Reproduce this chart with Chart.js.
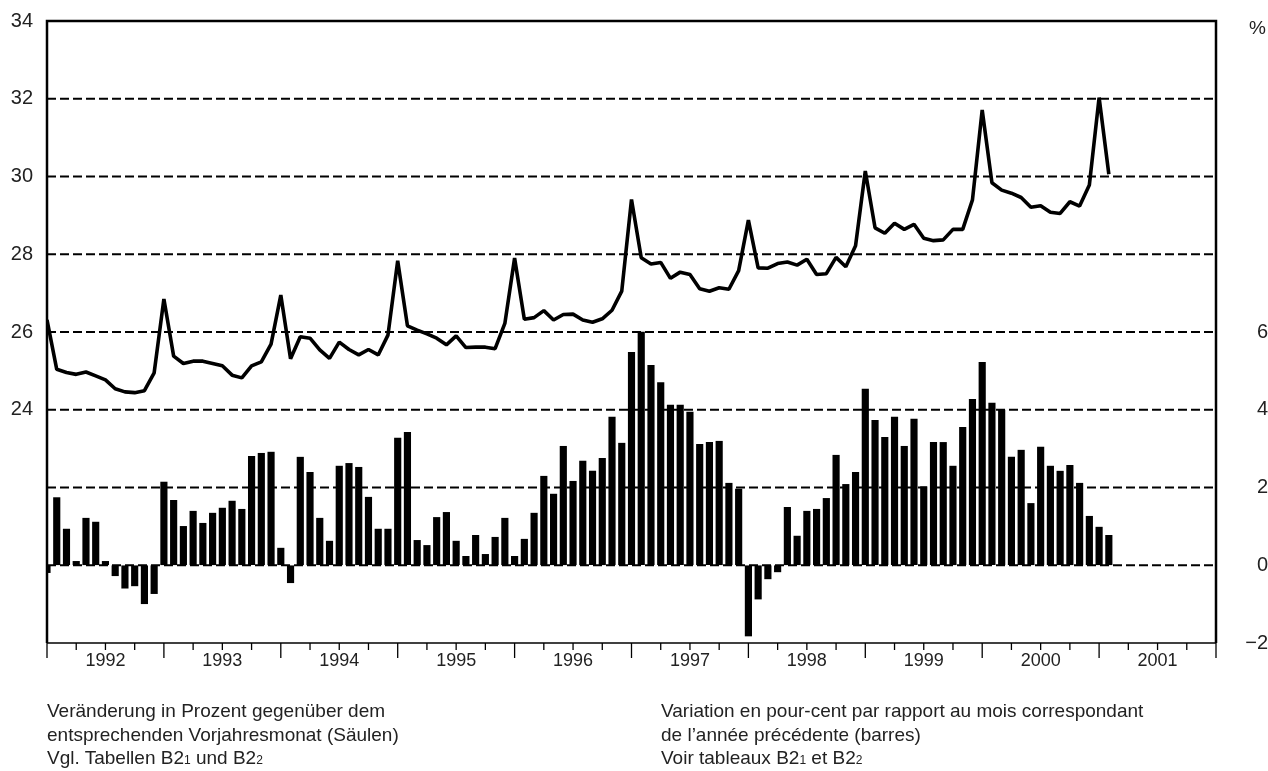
<!DOCTYPE html>
<html>
<head>
<meta charset="utf-8">
<script src="https://cdn.jsdelivr.net/npm/chart.js@4.4.0/dist/chart.umd.min.js"></script>
<style>
  body { margin: 0; background: #fff; }
  #wrap { position: relative; width: 1268px; height: 771px; font-family: "Liberation Sans", Arial, sans-serif; color: #222; }
  #chart { position: absolute; left: 0; top: 0; }
  .note { position: absolute; font-size: 19px; line-height: 23.5px; white-space: nowrap; }
  .note small { font-size: 12px; }
</style>
</head>
<body>
<div id="wrap">
  <canvas id="chart" width="1268" height="771"></canvas>
  <div class="note" style="left:1249px; top:16px;">%</div>
  <div class="note" style="left:47px; top:699px;">Veränderung in Prozent gegenüber dem<br>entsprechenden Vorjahresmonat (Säulen)<br>Vgl. Tabellen B2<small>1</small> und B2<small>2</small></div>
  <div class="note" style="left:661px; top:699px;">Variation en pour-cent par rapport au mois correspondant<br>de l’année précédente (barres)<br>Voir tableaux B2<small>1</small> et B2<small>2</small></div>
</div>
<script>
// x axis: one year label per year, monthly points start at the left edge (Dec 1991)
const years = ["1992", "1993", "1994", "1995", "1996", "1997", "1998", "1999", "2000", "2001"];

// level in % (left scale, line)
const lineValues = [
  26.31, 25.04, 24.96, 24.91, 24.97, 24.87, 24.77, 24.54, 24.46, 24.44, 24.49, 24.95,
  26.85, 25.38, 25.19, 25.25, 25.25, 25.19, 25.13, 24.89, 24.82, 25.13, 25.23, 25.69,
  26.95, 25.31, 25.88, 25.84, 25.54, 25.32, 25.74, 25.55, 25.41, 25.55, 25.41, 25.92,
  27.83, 26.16, 26.05, 25.95, 25.84, 25.67, 25.90, 25.60, 25.61, 25.61, 25.57, 26.22,
  27.90, 26.33, 26.37, 26.55, 26.31, 26.45, 26.46, 26.31, 26.25, 26.34, 26.56, 27.05,
  29.41, 27.91, 27.75, 27.79, 27.38, 27.54, 27.48, 27.11, 27.05, 27.14, 27.10, 27.58,
  28.88, 27.65, 27.64, 27.76, 27.80, 27.72, 27.87, 27.48, 27.50, 27.92, 27.68, 28.22,
  30.14, 28.68, 28.54, 28.80, 28.64, 28.77, 28.41, 28.35, 28.37, 28.64, 28.64, 29.40,
  31.71, 29.84, 29.65, 29.57, 29.46, 29.21, 29.25, 29.08, 29.05, 29.35, 29.24, 29.78,
  32.03, 30.06
];

// change vs. same month of previous year in % (right scale, bars)
const barValues = [
  -0.19, 1.74, 0.93, 0.10, 1.21, 1.11, 0.10, -0.27, -0.59, -0.53, -0.99, -0.73,
  2.14, 1.67, 1.00, 1.39, 1.08, 1.34, 1.47, 1.65, 1.44, 2.80, 2.88, 2.91,
  0.44, -0.45, 2.78, 2.39, 1.21, 0.62, 2.55, 2.62, 2.52, 1.75, 0.93, 0.93,
  3.27, 3.42, 0.64, 0.51, 1.23, 1.36, 0.62, 0.23, 0.77, 0.28, 0.72, 1.21,
  0.23, 0.67, 1.34, 2.29, 1.83, 3.06, 2.16, 2.68, 2.42, 2.75, 3.81, 3.14,
  5.48, 6.00, 5.14, 4.70, 4.12, 4.12, 3.94, 3.11, 3.16, 3.19, 2.11, 1.96,
  -1.82, -0.87, -0.35, -0.17, 1.49, 0.75, 1.39, 1.44, 1.72, 2.83, 2.08, 2.39,
  4.53, 3.73, 3.29, 3.81, 3.06, 3.76, 2.02, 3.16, 3.16, 2.55, 3.55, 4.27,
  5.22, 4.17, 3.99, 2.78, 2.96, 1.59, 3.04, 2.55, 2.42, 2.57, 2.11, 1.26,
  0.98, 0.77
];

const leftTicks = [24, 26, 28, 30, 32, 34];
const rightTicks = [-2, 0, 2, 4, 6];
const dashedLevels = [20, 22, 24, 26, 28, 30, 32];

const months = years.length * 12;
const linePoints = lineValues.map((v, i) => ({ x: i, y: v }));
const barPoints = barValues.map((v, i) => ({ x: i, y: v }));

Chart.defaults.font.family = '"Liberation Sans", Arial, sans-serif';
Chart.defaults.color = "#222";

// invisible tick marks are used only to push the y labels away from the frame
const hiddenTicks = (len) => ({
  display: true,
  drawOnChartArea: false,
  drawTicks: true,
  tickLength: len,
  color: "rgba(0,0,0,0)",
  tickColor: "rgba(0,0,0,0)",
});

const framePlugin = {
  id: "frame",
  beforeDatasetsDraw(chart) {
    const { ctx, chartArea: a, scales } = chart;
    ctx.save();
    ctx.strokeStyle = "#000";
    ctx.lineWidth = 2;
    ctx.setLineDash([9, 4]);
    dashedLevels.forEach((v) => {
      const py = scales.y.getPixelForValue(v);
      ctx.beginPath();
      ctx.moveTo(a.left, py);
      ctx.lineTo(a.right, py);
      ctx.stroke();
    });
    ctx.restore();
  },
  afterDatasetsDraw(chart) {
    const { ctx, chartArea: a, scales } = chart;
    ctx.save();
    ctx.strokeStyle = "#000";
    // top, left and right border
    ctx.lineWidth = 2.5;
    ctx.beginPath();
    ctx.moveTo(a.left, a.bottom);
    ctx.lineTo(a.left, a.top);
    ctx.lineTo(a.right, a.top);
    ctx.lineTo(a.right, a.bottom);
    ctx.stroke();
    // bottom axis line
    ctx.lineWidth = 1.3;
    ctx.beginPath();
    ctx.moveTo(a.left, a.bottom);
    ctx.lineTo(a.right, a.bottom);
    ctx.stroke();
    // year and quarter ticks
    for (let m = 0; m <= months; m += 3) {
      const px = scales.x.getPixelForValue(m);
      const len = m % 12 === 0 ? 15 : 7;
      ctx.beginPath();
      ctx.moveTo(px, a.bottom);
      ctx.lineTo(px, a.bottom + len);
      ctx.stroke();
    }
    ctx.restore();
  },
};

new Chart(document.getElementById("chart"), {
  data: {
    datasets: [
      {
        type: "line",
        data: linePoints,
        yAxisID: "y",
        borderColor: "#000",
        borderWidth: 3.6,
        borderJoinStyle: "bevel",
        pointRadius: 0,
        tension: 0,
        order: 1,
      },
      {
        type: "bar",
        data: barPoints,
        yAxisID: "y1",
        backgroundColor: "#000",
        borderWidth: 0,
        barThickness: 6.5,
        order: 2,
      },
    ],
  },
  options: {
    responsive: false,
    animation: false,
    devicePixelRatio: 1,
    layout: { padding: { top: 21, left: 0, right: 0, bottom: 88 } },
    plugins: { legend: { display: false }, tooltip: { enabled: false } },
    scales: {
      x: {
        type: "linear",
        min: 0,
        max: months,
        offset: false,
        grid: { display: false, drawTicks: false, offset: false },
        border: { display: false },
        ticks: {
          stepSize: 6,
          autoSkip: false,
          maxRotation: 0,
          padding: 7,
          font: { size: 18 },
          callback: (v) => (v % 12 === 6 ? years[(v - 6) / 12] : ""),
        },
        afterFit: (s) => { s.height = 40; },
      },
      y: {
        position: "left",
        min: 18,
        max: 34,
        grid: hiddenTicks(14),
        border: { display: false },
        ticks: {
          stepSize: 2,
          padding: 0,
          font: { size: 20 },
          callback: (v) => (leftTicks.includes(v) ? String(v) : ""),
        },
        afterFit: (s) => { s.width = 47; },
      },
      y1: {
        position: "right",
        min: -2,
        max: 14,
        grid: hiddenTicks(28),
        border: { display: false },
        ticks: {
          stepSize: 2,
          padding: 0,
          crossAlign: "far",
          font: { size: 20 },
          callback: (v) => (rightTicks.includes(v) ? (v < 0 ? "\u2212" + Math.abs(v) : String(v)) : ""),
        },
        afterFit: (s) => { s.width = 52; },
      },
    },
  },
  plugins: [framePlugin],
});
</script>
</body>
</html>
